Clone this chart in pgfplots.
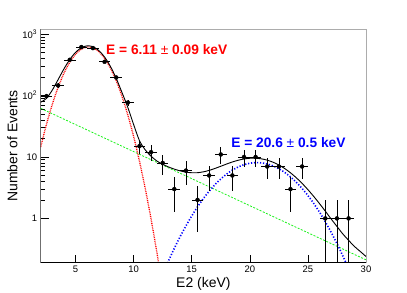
\documentclass[border=0pt]{standalone}
\usepackage{pgfplots}
\usepackage{pgfplotstable}
\pgfplotsset{compat=1.18}
\usepackage{fontspec}
\setmainfont{Liberation Sans}

\pgfplotstableread{
x y ep em
2.5 98 9.9 9.9
3.5 146 12.08 12.08
4.5 382 19.54 19.54
5.5 616 24.82 24.82
6.5 593 24.35 24.35
7.5 355 18.84 18.84
8.5 197 14.04 14.04
9.5 77 8.77 8.77
10.5 15 3.87 3.87
11.5 12 3.46 3.46
12.5 8 2.83 2.83
13.5 3 1.73 1.73
14.5 6 2.45 2.45
15.5 2 1.41 1.41
16.5 5 2.24 2.24
17.5 11 3.32 3.32
18.5 5 2.24 2.24
19.5 10 3.16 3.16
20.5 10 3.16 3.16
21.5 7 2.65 2.65
22.5 7 2.65 2.65
23.5 3 1.73 1.73
24.5 7 2.65 2.65
26.5 1 1 0.999
27.5 1 1 0.999
28.5 1 1 0.999
}\datatable

\begin{document}
\begin{tikzpicture}
\useasboundingbox (-40.7bp,-30.3bp) rectangle (366.3bp,262.7bp);
\begin{axis}[
  at={(0,0)}, anchor=south west,
  scale only axis, width=325.3bp, height=233.4bp,
  xmin=2, xmax=30, ymode=log, ymin=0.19, ymax=1200,
  xtick={5,10,15,20,25,30},
  ytick={1,10,100,1000},
  yticklabels={1,10,10\textsuperscript{2},10\textsuperscript{3}},
  /pgf/number format/assume math mode=true,
  tick label style={font=\fontsize{9.5}{11}\selectfont},
  xtick pos=bottom, ytick pos=left,
  tick align=inside,
  major tick length=8bp, minor tick length=4.5bp,
  major tick style={black, line width=0.6bp},
  minor tick style={black, line width=0.6bp},
  axis line style={gray!65, line width=0.8bp},
  xlabel={E2 (keV)},
  ylabel={Number of Events},
  label style={font=\fontsize{14}{16}\selectfont},
  xlabel style={at={(axis description cs:0.5,-0.0913)}, anchor=center},
  ylabel style={at={(axis description cs:-0.0867,0.5)}, anchor=center},
  clip=true,
]
% background (green)
\addplot[color={rgb,1:red,0.1;green,0.95;blue,0.1}, line width=0.8bp, dash pattern=on 2bp off 1.5bp, smooth] coordinates {
(2,62) (3,50.62) (4,41.32) (5,33.74) (6,27.55) (7,22.49) (8,18.36) (9,14.99) (10,12.24) (11,9.99) (12,8.16) (13,6.66) (14,5.44) (15,4.44) (16,3.63) (17,2.96) (18,2.417) (19,1.973) (20,1.611) (21,1.315) (22,1.073) (23,0.876) (24,0.715) (25,0.584) (26,0.477) (27,0.389) (28,0.318) (29,0.259) (30,0.212)};
% first peak (red)
\addplot[red, line width=1.3bp, dash pattern=on 0.9bp off 0.9bp, smooth] coordinates {
(2,14.52) (2.5,34.24) (3,72.3) (3.5,136.5) (4,230.5) (4.5,348.5) (5,471.5) (5.5,570.8) (6,618.3) (6.5,599.4) (7,519.9) (7.5,403.6) (8,280.3) (8.5,174.3) (9,96.9) (9.5,48.2) (10,21.5) (10.5,8.56) (11,3.05) (11.5,0.974) (12,0.279) (12.5,0.0711)};
% second peak (blue)
\addplot[blue, line width=1.6bp, dash pattern=on 1.2bp off 1.8bp, smooth] coordinates {
(12.5,0.1235) (13,0.2035) (13.5,0.325) (14,0.5035) (14.5,0.755) (15,1.096) (15.5,1.542) (16,2.101) (16.5,2.773) (17,3.545) (17.5,4.389) (18,5.263) (18.5,6.114) (19,6.879) (19.5,7.498) (20,7.916) (20.5,8.095) (21,8.018) (21.5,7.693) (22,7.148) (22.5,6.435) (23,5.610) (23.5,4.738) (24,3.876) (24.5,3.071) (25,2.356) (25.5,1.752) (26,1.261) (26.5,0.880) (27,0.594) (27.5,0.389) (28,0.2465) (28.5,0.1513) (29,0.090)};
% total (black)
\addplot[black, line width=0.9bp, smooth] coordinates {
(2,78) (2.5,90.26) (3,122.9) (3.5,182.2) (4,271.8) (4.5,385.8) (5,505.2) (5.5,601.3) (6,645.9) (6.5,624.3) (7,542.4) (7.5,423.9) (8,298.7) (8.5,190.9) (9,111.9) (9.5,64) (10,33.7) (10.5,18.5) (11,13.04) (11.5,10.3) (12,8.6) (12.5,7.6) (13,6.88) (13.5,6.35) (14,5.94) (14.5,5.67) (15,5.54) (15.5,5.55) (16,5.73) (16.5,6.05) (17,6.51) (17.5,7.06) (18,7.68) (18.5,8.30) (19,8.85) (19.5,9.28) (20,9.53) (20.5,9.55) (21,9.33) (21.5,8.88) (22,8.22) (22.5,7.41) (23,6.49) (23.5,5.53) (24,4.59) (24.5,3.72) (25,2.94) (25.5,2.28) (26,1.74) (26.5,1.31) (27,0.98) (27.5,0.74) (28,0.56) (28.5,0.44) (29,0.35) (29.5,0.29) (30,0.24)};
% data
\addplot[black, only marks, mark=*, mark size=2bp,
  error bars/.cd, x dir=both, x fixed=0.5, y dir=both, y explicit,
  error mark=none, error bar style={line width=0.6bp, black}]
  table[x=x, y=y, y error plus=ep, y error minus=em] {\datatable};
\draw[black, line width=0.8bp] (rel axis cs:0,1) -- (rel axis cs:0,0) -- (rel axis cs:1,0);
\node[anchor=west, inner sep=0pt, text=red, font=\bfseries\fontsize{13.8}{16}\selectfont] at (axis cs:7.62,556) {E = 6.11 {\mdseries ±} 0.09 keV};
\node[anchor=west, inner sep=0pt, text=blue, font=\bfseries\fontsize{13.8}{16}\selectfont] at (axis cs:18.39,16.9) {E = 20.6 {\mdseries ±} 0.5 keV};
\end{axis}
\end{tikzpicture}
\end{document}
